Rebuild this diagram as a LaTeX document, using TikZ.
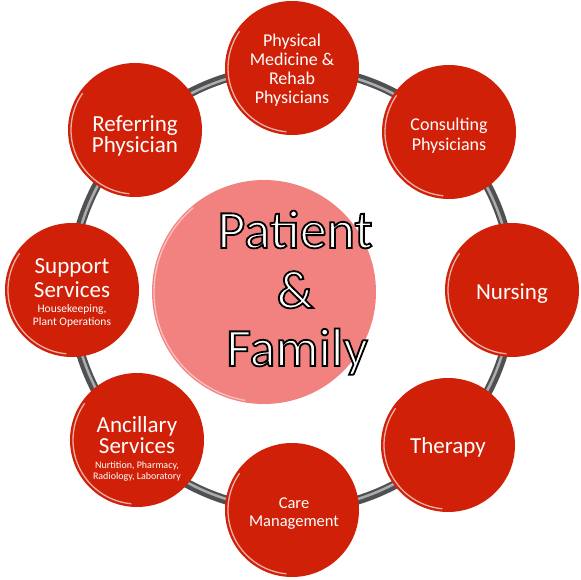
\documentclass[tikz,border=0pt]{standalone}
\usepackage{fontspec}
\setmainfont{Carlito}
\definecolor{satred}{RGB}{208,32,8}
\definecolor{corepink}{RGB}{242,130,128}
\definecolor{tubedark}{RGB}{78,80,82}
\definecolor{tubelight}{RGB}{170,172,175}
\newcommand\outlinetext[1]{\special{pdf:literal direct 2 Tr 1.8 w 0 G}#1\special{pdf:literal direct 0 Tr}}
\tikzset{
  sat/.style={circle,fill=satred,minimum size=134pt,inner sep=0pt},
  big/.style={text=white,anchor=base,inner sep=0pt,font=\fontsize{23}{25}\selectfont},
  mid/.style={text=white,anchor=base,inner sep=0pt,font=\fontsize{18}{20}\selectfont},
  care/.style={text=white,anchor=base,inner sep=0pt,font=\fontsize{16.5}{18}\selectfont},
  small/.style={text=white,anchor=base,inner sep=0pt,font=\fontsize{11.5}{13}\selectfont},
  tiny/.style={text=white,anchor=base,inner sep=0pt,font=\fontsize{10}{12}\selectfont},
  core/.style={text=white,anchor=base,inner sep=0pt,font=\fontsize{54}{60}\selectfont},
  rim/.style={white,opacity=0.65,line width=1.3pt}
}
\begin{document}
\begin{tikzpicture}[x=1pt,y=-1pt]
\useasboundingbox (0,0) rectangle (580,580);
% ring
\coordinate (ringc) at (292,289);
\draw[tubedark,line width=9pt] (ringc) circle[radius=221];
\draw[tubelight,line width=2.5pt] (ringc) circle[radius=220];
% center circle
\node[circle,fill=corepink,minimum size=224pt,inner sep=0pt] (pf) at (264,292) {};
\draw[rim,opacity=0.5] (pf.center) ++(100:110) arc[start angle=100,end angle=230,radius=110];
% satellites
\node[sat] (pmr) at (292,68) {};
\node[sat] (cons) at (449,132) {};
\node[sat] (nurs) at (512,290) {};
\node[sat] (ther) at (448,445) {};
\node[sat] (care) at (292,510) {};
\node[sat] (anc) at (137,440) {};
\node[sat] (supp) at (72,290) {};
\node[sat] (ref) at (135,130) {};
\foreach \n in {pmr,cons,nurs,ther,care,anc,supp,ref}{
  \draw[rim] (\n.center) ++(95:64) arc[start angle=95,end angle=215,radius=64];
}
% center text
\node[core] (t1) at (295,248) {\outlinetext{Patient}};
\node[core] (t2) at (295,308) {\outlinetext{\&}};
\node[core] (t3) at (297,366) {\outlinetext{Family}};
% top
\node[mid] (a1) at (292,47) {Physical};
\node[mid] (a2) at (292,66) {Medicine \&};
\node[mid] (a3) at (292,85) {Rehab};
\node[mid] (a4) at (292,104) {Physicians};
% consulting
\node[mid] (b1) at (449,131) {Consulting};
\node[mid] (b2) at (449,150) {Physicians};
% nursing
\node[big] (c1) at (512,299) {Nursing};
% therapy
\node[big] (d1) at (448,453) {Therapy};
% care
\node[care] (e1) at (294,508) {Care};
\node[care] (e2) at (294,526) {Management};
% ancillary
\node[big] (f1) at (137,432) {Ancillary};
\node[big] (f2) at (137,453) {Services};
\node[tiny] (f3) at (137,468) {Nurtition, Pharmacy,};
\node[tiny] (f4) at (137,479) {Radiology, Laboratory};
% support
\node[big] (g1) at (72,273) {Support};
\node[big] (g2) at (72,297) {Services};
\node[small] (g3) at (72,312) {Housekeeping,};
\node[small] (g4) at (72,325) {Plant Operations};
% referring
\node[big] (h1) at (135,132) {Referring};
\node[big] (h2) at (135,153) {Physician};
\end{tikzpicture}
\end{document}
